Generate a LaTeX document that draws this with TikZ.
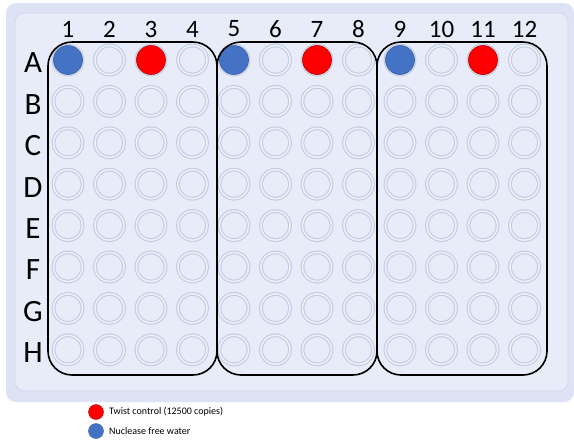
\documentclass[tikz,border=0pt]{standalone}
\usepackage{fontspec}
\setmainfont{Carlito}
\definecolor{plateout}{HTML}{DDE3F4}
\definecolor{platein}{HTML}{E8ECF8}
\definecolor{plateline}{HTML}{D2D9EE}
\definecolor{wellring}{HTML}{C4CCE2}
\definecolor{wellfill}{HTML}{EDF0FA}
\definecolor{waterblue}{HTML}{4472C4}
\definecolor{twistred}{HTML}{FF0000}

\begin{document}
\begin{tikzpicture}[x=1pt,y=-1pt,
  well/.style={circle,inner sep=0pt,minimum size=29pt,draw=wellring,line width=1.1pt,double=wellfill,double distance=1.6pt},
  fullwell/.style={circle,inner sep=0pt,minimum size=29pt,line width=.6pt},
  grp/.style={draw=black,line width=1.6pt,rounded corners=24pt},
  collab/.style={font=\fontsize{25}{25}\selectfont},
  rowlab/.style={font=\fontsize{31}{31}\selectfont},
  legtext/.style={anchor=west,font=\fontsize{10}{10}\selectfont,inner sep=0pt}]
\useasboundingbox (0,0) rectangle (574,440);
\fill[plateout,rounded corners=10pt] (6,3) rectangle (574,402);
\path[fill=platein,draw=plateline,line width=.8pt,rounded corners=9pt] (15,13) rectangle (568,391);
% wells
\foreach \r [count=\i from 0] in {A,B,C,D,E,F,G,H} {
  \node[rowlab] (row\r) at (33,60+41.4*\i+3) {\r};
  \foreach \c in {1,...,12}
    \node[well] (w\r\c) at (68+41.5*\c-41.5,60+41.4*\i) {};
}
\foreach \c in {1,...,12}
  \node[collab] (col\c) at (68+41.5*\c-41.5,29) {\c};
% controls
\node[fullwell,fill=waterblue,draw=waterblue!80!black] (waterA1) at (wA1) {};
\node[fullwell,fill=waterblue,draw=waterblue!80!black] (waterA5) at (wA5) {};
\node[fullwell,fill=waterblue,draw=waterblue!80!black] (waterA9) at (wA9) {};
\node[fullwell,fill=twistred,draw=twistred!70!black] (twistA3) at (wA3) {};
\node[fullwell,fill=twistred,draw=twistred!70!black] (twistA7) at (wA7) {};
\node[fullwell,fill=twistred,draw=twistred!70!black] (twistA11) at (wA11) {};
% groups
\draw[grp] (48,42) rectangle (217,375);
\draw[grp] (217,42) rectangle (377,375);
\draw[grp] (377,42) rectangle (547,375);
% legend
\node[circle,inner sep=0pt,minimum size=15pt,fill=twistred,draw=twistred!70!black,line width=.4pt] (legred) at (96,412) {};
\node[legtext] (legredtext) at (109,412) {Twist control (12500 copies)};
\node[circle,inner sep=0pt,minimum size=15pt,fill=waterblue,draw=waterblue!80!black,line width=.4pt] (legblue) at (96,431) {};
\node[legtext] (legbluetext) at (109,431) {Nuclease free water};
\end{tikzpicture}
\end{document}
